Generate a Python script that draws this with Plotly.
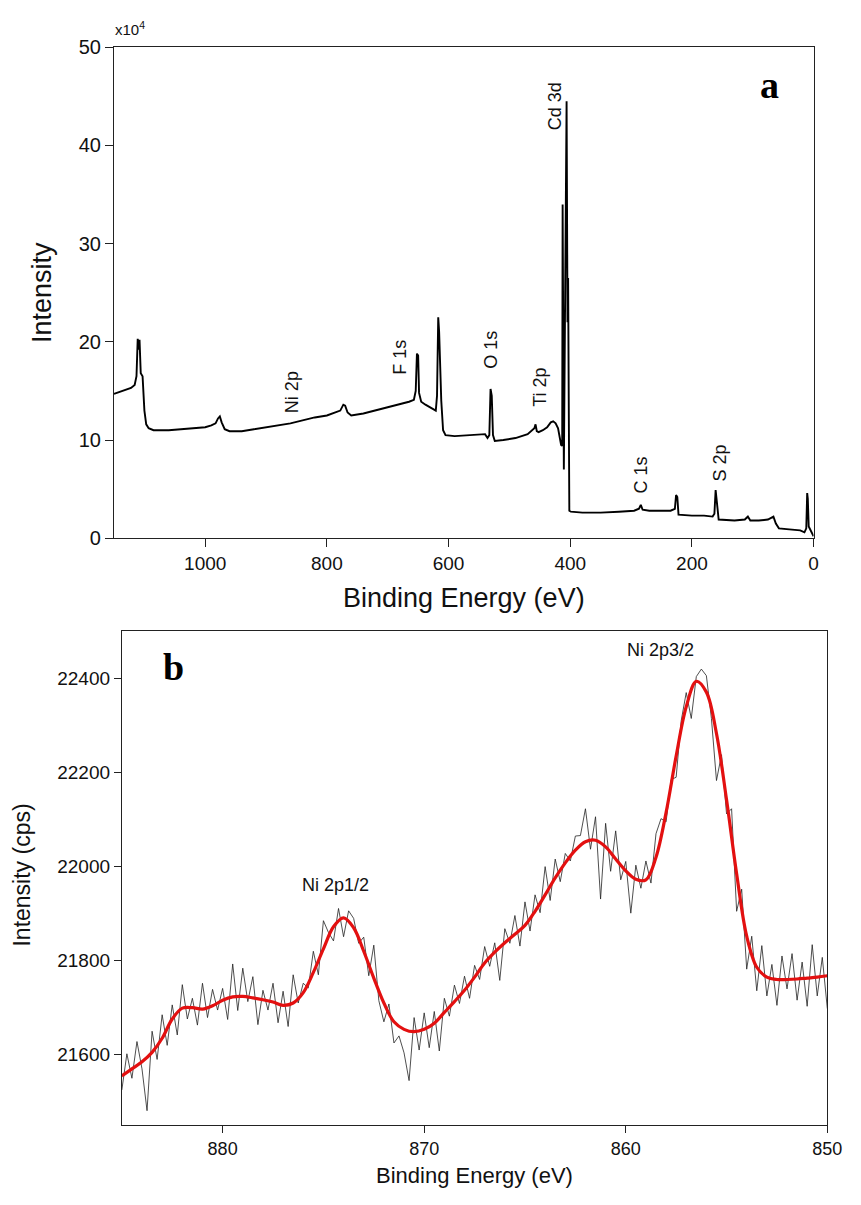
import numpy as np
import plotly.graph_objects as go

# ---------------- Panel a: XPS survey spectrum (intensity in x10^4 counts) -------------
survey_be = [1150, 1140, 1130, 1122, 1116, 1113, 1111, 1109.5, 1108, 1106, 1103, 1100, 1097, 1093,
             1085, 1060, 1040, 1020, 1000, 990, 983, 979, 976, 973, 968, 960, 940, 920, 900, 880,
             860, 840, 820, 800, 785, 778, 773, 770, 766, 760, 740, 720, 700, 680, 665, 657, 654,
             652, 650, 648.5, 645, 638, 625, 621, 619, 617, 615.5, 614, 612, 609, 605, 590, 570,
             545, 540, 536, 533, 531, 529, 527, 524, 510, 490, 470, 462, 459, 457, 455, 452, 445,
             438, 432, 428, 424, 420, 417, 415, 413.2, 412.5, 410.5, 406, 404.5, 403.5, 401.5, 399,
             380, 350, 320, 295, 287, 284, 281, 270, 250, 235, 228, 226, 224, 222, 200, 180, 166,
             163, 161, 159.5, 158, 156, 130, 113, 108, 104, 90, 75, 69, 66, 62, 57, 40, 22, 15, 12,
             10.5, 9.5, 8, 5, 2, 0]
survey_int = [14.7, 14.9, 15.1, 15.3, 15.6, 16.5, 20.3, 19.2, 20.2, 16.8, 16.5, 13.0, 11.6, 11.2,
              11.0, 11.0, 11.1, 11.2, 11.3, 11.5, 11.7, 12.2, 12.4, 11.8, 11.1, 10.9, 10.9, 11.1,
              11.3, 11.5, 11.7, 12.0, 12.3, 12.5, 12.8, 13.0, 13.6, 13.5, 12.8, 12.5, 12.7, 13.0,
              13.3, 13.6, 13.9, 14.1, 15.0, 18.8, 18.6, 14.8, 13.9, 13.6, 13.2, 13.0, 14.5, 22.5,
              21.0, 16.5, 14.0, 11.0, 10.5, 10.4, 10.5, 10.6, 10.6, 10.2, 10.5, 15.2, 14.5, 10.5,
              9.9, 10.0, 10.2, 10.6, 11.0, 11.2, 11.6, 10.9, 10.8, 11.0, 11.3, 11.8, 11.9, 11.7,
              11.2, 10.0, 9.5, 9.4, 34.0, 7.0, 44.5, 22.0, 26.5, 2.8, 2.7, 2.6, 2.6, 2.7, 2.8,
              3.0, 3.4, 2.9, 2.8, 2.8, 2.8, 3.0, 4.4, 4.2, 2.4, 2.3, 2.3, 2.2, 2.5, 4.9, 4.0, 2.6,
              1.9, 1.8, 1.9, 2.2, 1.8, 1.8, 1.9, 2.1, 2.2, 1.5, 1.0, 0.9, 0.8, 0.6, 1.0, 4.6, 4.0,
              1.2, 0.8, 0.5, 0.2]

survey_labels = ["Ni 2p", "F 1s", "O 1s", "Ti 2p", "Cd 3d", "C 1s", "S 2p"]
survey_label_be = [857, 681, 530, 450, 425, 283.5, 154]
survey_label_int = [14.9, 18.4, 19.2, 15.4, 44.0, 6.4, 7.7]

a_xticks = [0, 200, 400, 600, 800, 1000]
a_yticks = [0, 10, 20, 30, 40, 50]

# ---------------- Panel b: Ni 2p high-resolution spectrum -------------
raw_be = np.linspace(885.0, 850.0, 141)
raw_int = [21525, 21602, 21550, 21628, 21570, 21481, 21650, 21590, 21685, 21620, 21706, 21642,
           21749, 21676, 21720, 21663, 21752, 21679, 21739, 21695, 21741, 21675, 21793, 21694,
           21784, 21713, 21766, 21664, 21737, 21695, 21752, 21668, 21735, 21660, 21770, 21710,
           21752, 21742, 21820, 21770, 21885, 21860, 21842, 21911, 21851, 21906, 21890, 21837,
           21850, 21768, 21833, 21715, 21670, 21708, 21625, 21640, 21604, 21545, 21679, 21610,
           21689, 21615, 21692, 21608, 21720, 21682, 21748, 21709, 21767, 21720, 21790, 21760,
           21830, 21788, 21838, 21758, 21868, 21837, 21896, 21831, 21925, 21863, 21940, 21902,
           22000, 21928, 22016, 21968, 22028, 22012, 22065, 22066, 22123, 22037, 22106, 21931,
           22092, 21990, 22076, 21972, 22011, 21901, 22003, 21954, 22012, 21965, 22070, 22102,
           22095, 22185, 22190, 22310, 22370, 22315, 22404, 22420, 22406, 22315, 22183, 22238,
           22112, 22123, 21905, 21952, 21782, 21852, 21736, 21832, 21725, 21792, 21705, 21810,
           21740, 21815, 21716, 21797, 21703, 21834, 21725, 21807, 21698]

fit_be = np.linspace(885.0, 850.0, 71)
fit_int = [21555, 21570, 21585, 21605, 21635, 21676, 21699, 21700, 21697, 21704, 21716, 21723,
           21724, 21721, 21717, 21712, 21705, 21710, 21732, 21775, 21825, 21872, 21891, 21870,
           21820, 21763, 21710, 21670, 21654, 21649, 21654, 21667, 21690, 21713, 21737, 21765,
           21795, 21818, 21838, 21856, 21875, 21905, 21940, 21976, 22008, 22035, 22053, 22056,
           22042, 22016, 21991, 21973, 21972, 22020, 22115, 22235, 22340, 22394, 22371, 22283,
           22142, 21985, 21852, 21786, 21765, 21760, 21760, 21761, 21763, 21765, 21768]

b_labels = ["Ni 2p3/2", "Ni 2p1/2"]
b_label_be = [858.3, 874.4]
b_label_int = [22460, 21960]

b_xticks = [850, 860, 870, 880]
b_yticks = [21600, 21800, 22000, 22200, 22400]

W, H = 861, 1205
SANS = "Liberation Sans, Arial, sans-serif"
NARROW = "Liberation Sans Narrow, Arial Narrow, Liberation Sans, sans-serif"
SERIF = "Liberation Serif, Times New Roman, serif"

fig = go.Figure()
fig.add_trace(go.Scatter(x=survey_be, y=survey_int, mode="lines",
                         line=dict(color="black", width=1.9), xaxis="x", yaxis="y",
                         showlegend=False, hoverinfo="skip"))
fig.add_trace(go.Scatter(x=raw_be, y=raw_int, mode="lines",
                         line=dict(color="#222222", width=0.8), xaxis="x2", yaxis="y2",
                         showlegend=False, hoverinfo="skip"))
fig.add_trace(go.Scatter(x=fit_be, y=fit_int, mode="lines",
                         line=dict(color="#e31010", width=3.2, shape="spline", smoothing=1.0),
                         xaxis="x2", yaxis="y2", showlegend=False, hoverinfo="skip"))


def px(xp):
    return xp / W


def py(yp):
    return 1 - yp / H


common_axis = dict(showgrid=False, zeroline=False, showline=True, linecolor="#222222",
                   linewidth=1, mirror=True, ticks="outside", tickcolor="#222222")

fig.update_layout(
    width=W, height=H,
    margin=dict(l=0, r=0, t=0, b=0),
    paper_bgcolor="white", plot_bgcolor="white",
    xaxis=dict(domain=[px(116), px(828)], range=[1150, 0], tickvals=a_xticks,
               ticklen=8, tickfont=dict(family=SANS, size=19, color="#111"),
               anchor="y", **common_axis),
    yaxis=dict(domain=[py(537), py(37)], range=[0, 50], tickvals=a_yticks,
               ticklen=8, tickfont=dict(family=SANS, size=20, color="#111"),
               anchor="x", **common_axis),
    xaxis2=dict(domain=[px(124), px(842)], range=[885, 850], tickvals=b_xticks,
                ticklen=7, tickfont=dict(family=NARROW, size=18, color="#111"),
                anchor="y2", **common_axis),
    yaxis2=dict(domain=[py(1135), py(632)], range=[21450, 22500], tickvals=b_yticks,
                tickformat="d", ticklen=7, tickfont=dict(family=NARROW, size=19, color="#111"),
                anchor="x2", **common_axis),
)

annotations = []
for t, bx, by in zip(survey_labels, survey_label_be, survey_label_int):
    annotations.append(dict(text=t, x=bx, y=by, xref="x", yref="y", showarrow=False,
                            textangle=-90, xanchor="center", yanchor="middle",
                            font=dict(family=SANS, size=18, color="#111")))
for t, bx, by in zip(b_labels, b_label_be, b_label_int):
    annotations.append(dict(text=t, x=bx, y=by, xref="x2", yref="y2", showarrow=False,
                            xanchor="center", yanchor="middle",
                            font=dict(family=SANS, size=18, color="#111")))


def paper_text(text, xp, yp, size, family=SANS, angle=0, xanchor="center", color="#111"):
    return dict(text=text, x=px(xp), y=py(yp), xref="paper", yref="paper", showarrow=False,
                xanchor=xanchor, yanchor="middle", textangle=angle,
                font=dict(family=family, size=size, color=color))


annotations += [
    paper_text("<b>a</b>", 783, 75, 38, family=SERIF, color="black"),
    paper_text("<b>b</b>", 177, 668, 38, family=SERIF, color="black"),
    paper_text("x10<sup>4</sup>", 115, 18, 15, xanchor="left"),
    paper_text("Intensity", 42, 287, 27, angle=-90),
    paper_text("Binding Energy (eV)", 472, 598, 27),
    paper_text("Intensity (cps)", 22, 880, 23, family=NARROW, angle=-90),
    paper_text("Binding Energy (eV)", 483, 1186, 22, family=NARROW),
]
fig.update_layout(annotations=annotations)

fig.write_html("out.html")
